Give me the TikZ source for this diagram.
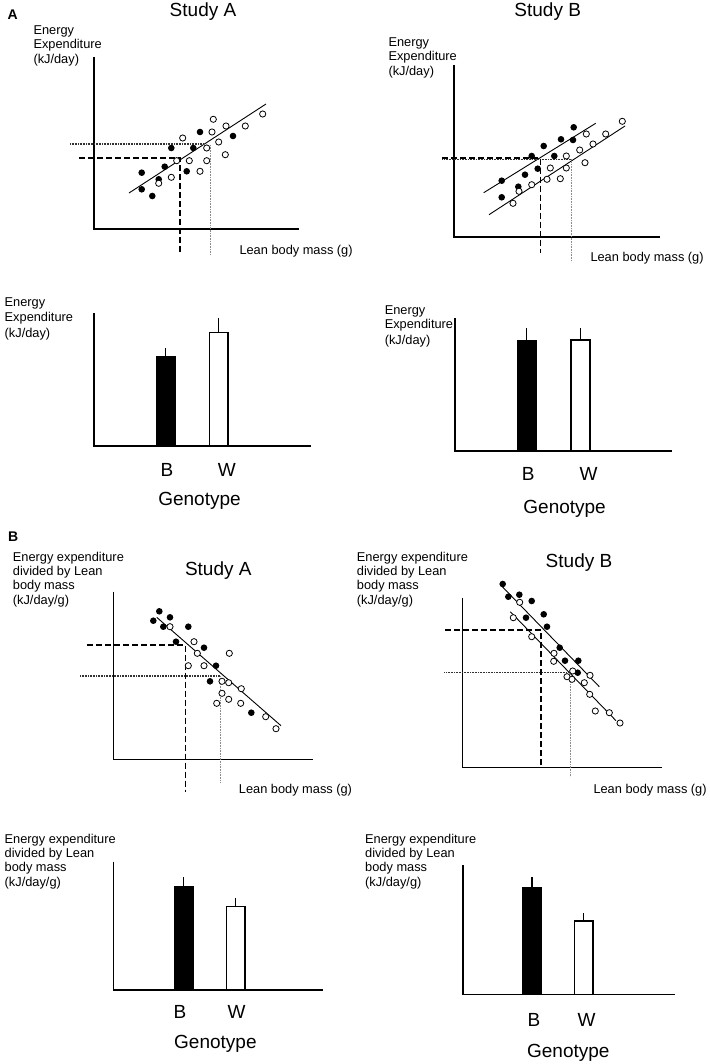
\documentclass[tikz,border=0pt]{standalone}
\usepackage{fontspec}
\setmainfont{Liberation Sans}
\begin{document}
\begin{tikzpicture}[x=1pt,y=-1pt,
  ax/.style={line width=1.6pt},
  reg/.style={line width=0.9pt},
  dsh/.style={line width=1.2pt, dash pattern=on 6pt off 3pt},
  dotd/.style={line width=1.1pt, dash pattern=on 0.8pt off 0.8pt, black!80},
  dotv/.style={line width=0.8pt, dash pattern=on 0.8pt off 0.8pt, black!45},
  fd/.style={fill=black},
  od/.style={draw=black, fill=white, line width=0.8pt},
  lab/.style={font=\fontsize{12.8}{14.8}\selectfont, inner sep=0pt, anchor=base west},
  big/.style={font=\fontsize{19}{22}\selectfont, inner sep=0pt, anchor=base},
  pan/.style={font=\fontsize{14}{16}\selectfont\bfseries, inner sep=0pt, anchor=base west},
  bblk/.style={fill=black, draw=black, line width=1pt},
  bwht/.style={fill=white, draw=black, line width=1.2pt},
  err/.style={line width=1.2pt}]
\useasboundingbox[fill=white] (0,0) rectangle (709,1064);

%% ================= Section A, Study A scatter
\node[pan] (pA) at (7.3,19.3) {A};
\node[big] (tAA) at (203,16.7) {Study A};
\node[lab] (aa1) at (33.3,34.2) {Energy};
\node[lab] (aa2) at (33.3,48.8) {Expenditure};
\node[lab] (aa3) at (33.3,63.6) {(kJ/day)};
\node[lab] (aax) at (239.3,254.2) {Lean body mass (g)};
\draw[ax] (94,57) -- (94,229) -- (299,229);
\draw[reg] (129,193) -- (266,104);
\draw[dotd] (70,144) -- (204,144);
\draw[dotv] (210.5,145) -- (210.5,255);
\draw[dsh] (79,158) -- (180,158) -- (180,253);
\foreach \p in {(141.7,172.7),(141.7,189.3),(152.3,196),(158.7,179.3),(164.7,166.7),(171.3,148),(186.7,171.3),(193.3,148),(200,132),(233,136)}
  \fill[fd] \p circle[radius=3.3pt];
\foreach \p in {(158.7,183.3),(171.3,177.3),(176.7,160.7),(182.7,138),(189.3,160.7),(200,171.3),(206.7,160.7),(206.7,148),(212,132),(213.3,119.3),(218.7,142),(225.3,154.7),(226,126),(245.3,126),(262.7,114)}
  \draw[od] \p circle[radius=3.1pt];

%% ================= Section A, Study B scatter
\node[big] (tAB) at (547.7,16.7) {Study B};
\node[lab] (ab1) at (388.3,46.5) {Energy};
\node[lab] (ab2) at (388.3,61) {Expenditure};
\node[lab] (ab3) at (388.3,75.8) {(kJ/day)};
\node[lab] (abx) at (590.3,261.5) {Lean body mass (g)};
\draw[ax] (454,65) -- (454,237.3) -- (660,237.3);
\draw[reg] (483.7,192.7) -- (595.7,123.3);
\draw[reg] (489,214.7) -- (625,126);
\draw[dotd] (442.3,159.3) -- (571,159.3);
\draw[dotv] (571,159.3) -- (571,261.7);
\draw[dsh] (442.3,158) -- (540.7,158) -- (540.7,252.7);
\foreach \p in {(501.7,180.7),(501.7,197.3),(518.3,186.7),(525,174.7),(531.7,156),(537.7,168.7),(543.7,146),(554.3,156),(561,139.3),(573,140),(573.7,127.3)}
  \fill[fd] \p circle[radius=3.3pt];
\foreach \p in {(513,203.3),(519,191.3),(531.7,184.7),(547,179.3),(550.3,168),(560.3,178.7),(566.3,168),(566.3,156),(579.7,150),(585,162.7),(586.3,134),(593,144),(605.7,134),(622.3,121.3)}
  \draw[od] \p circle[radius=3.1pt];

%% ================= Section A, bar chart left
\node[lab] (ba1) at (4.5,306.5) {Energy};
\node[lab] (ba2) at (4.5,321.5) {Expenditure};
\node[lab] (ba3) at (4.5,337) {(kJ/day)};
\draw[err] (165.5,357) -- (165.5,348);
\draw[err] (218.75,333) -- (218.75,318);
\draw[bblk] (156,356.7) rectangle (175,446);
\draw[bwht] (209.5,332.3) rectangle (228,446);
\draw[ax] (93.9,313.3) -- (93.9,446) -- (311,446);
\node[big] (baB) at (167,476.7) {B};
\node[big] (baW) at (226.8,476.7) {W};
\node[big] (baG) at (199.5,505.3) {Genotype};

%% ================= Section A, bar chart right
\node[lab] (bb1) at (384.6,314.2) {Energy};
\node[lab] (bb2) at (384.6,328.7) {Expenditure};
\node[lab] (bb3) at (384.6,344.2) {(kJ/day)};
\draw[err] (526.75,340.5) -- (526.75,327.7);
\draw[err] (580.5,340.5) -- (580.5,327.7);
\draw[bblk] (517,340) rectangle (536.5,451);
\draw[bwht] (571,340) rectangle (590,451);
\draw[ax] (454.9,318.3) -- (454.9,451) -- (672,451);
\node[big] (bbB) at (528.3,480) {B};
\node[big] (bbW) at (588.7,480) {W};
\node[big] (bbG) at (564.6,513.6) {Genotype};

%% ================= Section B, Study A scatter
\node[pan] (pB) at (8,541) {B};
\node[big] (tBA) at (218.3,575) {Study A};
\node[lab] (ca1) at (12.7,561.5) {Energy expenditure};
\node[lab] (ca2) at (12.7,575.5) {divided by Lean};
\node[lab] (ca3) at (12.7,589.5) {body mass};
\node[lab] (ca4) at (12.7,604.2) {(kJ/day/g)};
\node[lab] (cax) at (238.7,793.2) {Lean body mass (g)};
\draw[ax] (113.3,591.7) -- (113.3,759.3) -- (312.7,759.3);
\draw[reg] (156.7,617.3) -- (281,725.7);
\draw[dotd] (80,676) -- (220,676);
\draw[dotv] (220,676) -- (220,782.7);
\draw[dsh] (87.3,645) -- (185.7,645) -- (185.7,792.3);
\foreach \p in {(153.3,620.7),(159.3,611.3),(163.3,626.7),(170,617.3),(188.3,626.7),(176,641.7),(204,647.7),(216,665.7),(210,681.3),(251.3,712.7)}
  \fill[fd] \p circle[radius=3.3pt];
\foreach \p in {(170,626.7),(194,641.7),(197.3,653.3),(188.3,665.7),(204,665.7),(229.3,653.3),(222,681.3),(228.7,682.7),(241.3,688.7),(222,693.3),(216.7,703.3),(228.7,699.3),(240.7,703.3),(265.7,716.7),(276,728.7)}
  \draw[od] \p circle[radius=3.1pt];

%% ================= Section B, Study B scatter
\node[big] (tBB) at (579,567.3) {Study B};
\node[lab] (cb1) at (356.7,561.5) {Energy expenditure};
\node[lab] (cb2) at (356.7,575.5) {divided by Lean};
\node[lab] (cb3) at (356.7,589.5) {body mass};
\node[lab] (cb4) at (356.7,604.2) {(kJ/day/g)};
\node[lab] (cbx) at (593.3,793.5) {Lean body mass (g)};
\draw[ax] (462.3,598.3) -- (462.3,767.3) -- (662.3,767.3);
\draw[reg] (500.7,585) -- (599.3,686.7);
\draw[reg] (510.3,611.7) -- (616,720.7);
\draw[dotd] (444.3,672.7) -- (571.7,672.7);
\draw[dotv] (570,672.7) -- (570,776.7);
\draw[dsh] (445,630) -- (541,630) -- (541,767.3);
\foreach \p in {(502.7,584),(508.3,596.7),(519.3,594.7),(531.7,601),(526,617.7),(543.7,614.3),(547,626.7),(559.7,647.7),(565,660.7),(578.3,660.7),(577.7,672.7)}
  \fill[fd] \p circle[radius=3.3pt];
\foreach \p in {(519.7,602.3),(513.3,617.7),(531.7,636.7),(554,653.3),(553.7,661.3),(572.7,671),(567,676.7),(572,679.3),(590,675.3),(584.3,682.7),(589.7,694.3),(595.3,711),(609.3,712.7),(620,723)}
  \draw[od] \p circle[radius=3.1pt];

%% ================= Section B, bar chart left
\node[lab] (da1) at (4.5,843.2) {Energy expenditure};
\node[lab] (da2) at (4.5,857.5) {divided by Lean};
\node[lab] (da3) at (4.5,871.5) {body mass};
\node[lab] (da4) at (4.5,886.5) {(kJ/day/g)};
\draw[err] (183.5,887) -- (183.5,877.3);
\draw[err] (235.65,907) -- (235.65,898.3);
\draw[bblk] (174,886.7) rectangle (193,990);
\draw[bwht] (226.3,906.7) rectangle (245,990);
\draw[ax] (113.4,861.7) -- (113.4,990) -- (323.4,990);
\node[big] (daB) at (180,1018.3) {B};
\node[big] (daW) at (236.7,1018.3) {W};
\node[big] (daG) at (215.4,1048.6) {Genotype};

%% ================= Section B, bar chart right
\node[lab] (db1) at (365,843.2) {Energy expenditure};
\node[lab] (db2) at (365,857.5) {divided by Lean};
\node[lab] (db3) at (365,871.5) {body mass};
\node[lab] (db4) at (365,886.5) {(kJ/day/g)};
\draw[err] (532,887.5) -- (532,877.3);
\draw[err] (583.8,921.5) -- (583.8,913.3);
\draw[bblk] (522.5,887.3) rectangle (541.5,994.3);
\draw[bwht] (574.7,921) rectangle (593,994.3);
\draw[ax] (462.7,865) -- (462.7,994.3) -- (674.8,994.3);
\node[big] (dbB) at (534,1026) {B};
\node[big] (dbW) at (586.7,1026) {W};
\node[big] (dbG) at (568.3,1057.6) {Genotype};
\end{tikzpicture}
\end{document}
